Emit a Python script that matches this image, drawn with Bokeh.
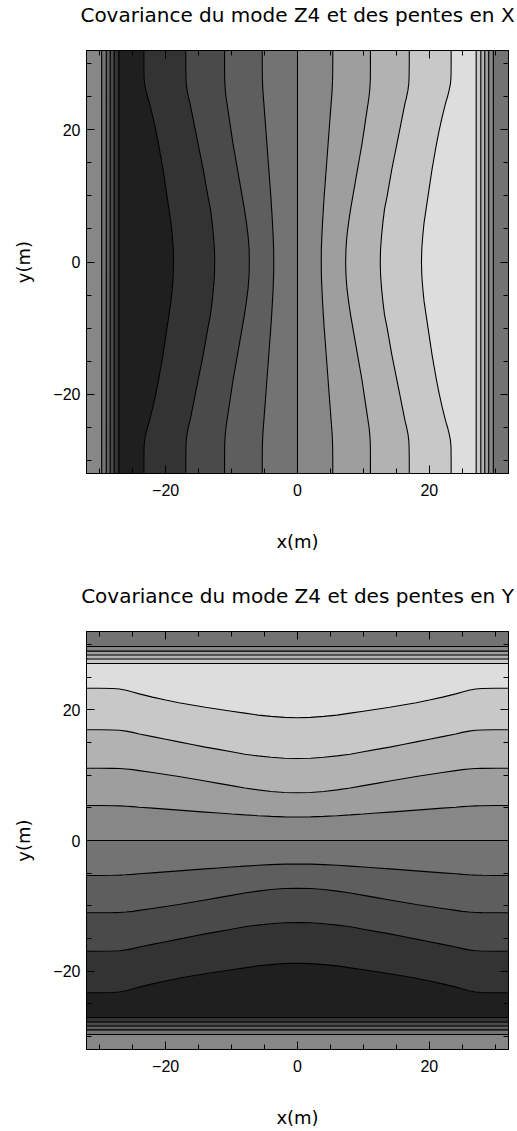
import numpy as np
from bokeh.plotting import figure
from bokeh.layouts import column
from bokeh.models import FixedTicker, LinearAxis, Range1d, Title
from bokeh.embed import file_html
from bokeh.resources import INLINE

# ---------------- data ----------------
titles = ["Covariance du mode Z4 et des pentes en X",
          "Covariance du mode Z4 et des pentes en Y"]
x_label = "x(m)"
y_label = "y(m)"
extent = 32
major_ticks = [-20, 0, 20]
major_labels = ["\u221220", "0", "20"]
minor_ticks = [-30, -25, -20, -15, -10, -5, 0, 5, 10, 15, 20, 25, 30]

# position along the contour lines (m), from the centre outwards
along = [0, 2, 4, 6, 8, 10, 12, 14, 16, 18, 20, 22, 24, 25, 26, 27, 28, 30, 32]
# distance (m) of contour levels +1..+4 from the zero line at those positions
level1 = [3.6, 3.62, 3.7, 3.8, 3.92, 4.05, 4.2, 4.35, 4.5, 4.65, 4.8, 4.95,
          5.1, 5.18, 5.25, 5.3, 5.33, 5.35, 5.35]
level2 = [7.3, 7.35, 7.5, 7.75, 8.05, 8.4, 8.75, 9.1, 9.45, 9.8, 10.1, 10.4,
          10.7, 10.85, 10.95, 11.02, 11.05, 11.06, 11.06]
level3 = [12.55, 12.6, 12.75, 12.95, 13.2, 13.6, 13.95, 14.3, 14.7, 15.1, 15.5,
          15.9, 16.3, 16.55, 16.75, 16.88, 16.92, 16.95, 16.95]
level4 = [18.8, 18.85, 19.0, 19.2, 19.5, 19.8, 20.1, 20.4, 20.75, 21.1, 21.5,
          21.95, 22.45, 22.75, 23.0, 23.2, 23.28, 23.3, 23.3]
# straight contours near the edge of the field, levels +4, +3, +2, +1, 0
edge = [27.1, 27.8, 28.4, 29.0, 29.7]
# gray of each contour band, darkest (lowest) to lightest (highest)
grays = ["#1f1f1f", "#333333", "#4a4a4a", "#5e5e5e", "#737373",
         "#878787", "#9e9e9e", "#b2b2b2", "#c8c8c8", "#dddddd"]
# band index between consecutive boundaries, from -extent to +extent
band_index = [5, 4, 3, 2, 1, 0, 1, 2, 3, 4, 5, 6, 7, 8, 9, 8, 7, 6, 5, 4]

FONT = "DejaVu Sans"
TICK_FONT = "Liberation Sans"


def build():
    a = np.array(along, float)
    t = np.concatenate([-a[::-1], a[1:]])

    def sym(v):
        v = np.array(v, float)
        return np.concatenate([v[::-1], v[1:]])

    interior = [sym(l) for l in (level1, level2, level3, level4)]
    const = lambda c: np.full_like(t, float(c))
    B = ([const(-extent)] + [const(-e) for e in edge[::-1]]
         + [-l for l in interior[::-1]] + [const(0)] + interior
         + [const(e) for e in edge] + [const(extent)])
    band_u, band_v, cols = [], [], []
    for k in range(len(B) - 1):
        band_u.append(np.concatenate([B[k], B[k + 1][::-1]]))
        band_v.append(np.concatenate([t, t[::-1]]))
        cols.append(grays[band_index[k]])
    line_u = [b for b in B[1:-1]]
    line_v = [t for _ in B[1:-1]]
    return band_u, band_v, cols, line_u, line_v


def style_axis(ax, show_labels):
    ax.ticker = FixedTicker(ticks=major_ticks, minor_ticks=minor_ticks)
    ax.major_tick_in = 8
    ax.major_tick_out = 0
    ax.minor_tick_in = 5
    ax.minor_tick_out = 0
    ax.major_tick_line_color = "black"
    ax.minor_tick_line_color = "black"
    ax.axis_line_color = "black"
    if show_labels:
        ax.major_label_overrides = {t: s for t, s in zip(major_ticks, major_labels)}
        ax.major_label_text_font = TICK_FONT
        ax.major_label_text_font_size = "16px"
        ax.major_label_text_color = "black"
    else:
        ax.major_label_overrides = {t: "" for t in major_ticks}
        ax.major_label_text_font_size = "0px"
        ax.major_label_standoff = 0


def make(title, transpose, height, border_top, border_bottom):
    p = figure(width=517, height=height,
               x_range=Range1d(-extent, extent), y_range=Range1d(-extent, extent),
               output_backend="svg", toolbar_location=None,
               min_border_left=86, min_border_right=9,
               min_border_top=border_top, min_border_bottom=border_bottom)

    bu, bv, cols, lu, lv = build()
    if transpose:
        bu, bv, lu, lv = bv, bu, lv, lu
    p.patches(bu, bv, fill_color=cols, line_color=cols, line_width=0.8)
    p.multi_line(lu, lv, line_color="black", line_width=1.1)

    p.grid.visible = False
    p.outline_line_color = "black"
    p.background_fill_color = "#808080"

    for ax in (p.xaxis[0], p.yaxis[0]):
        style_axis(ax, True)
    p.xaxis.axis_label = x_label
    p.yaxis.axis_label = y_label
    for ax in (p.xaxis[0], p.yaxis[0]):
        ax.axis_label_text_font = FONT
        ax.axis_label_text_font_size = "18px"
        ax.axis_label_text_font_style = "normal"
        ax.axis_label_text_color = "black"
    p.xaxis.major_label_standoff = 10
    p.xaxis.axis_label_standoff = 32
    p.yaxis.major_label_standoff = 6
    p.yaxis.axis_label_standoff = 16

    for loc in ("above", "right"):
        ax = LinearAxis()
        style_axis(ax, False)
        p.add_layout(ax, loc)

    # title: a blank second line keeps the text clear of the frame
    t = Title(text=title + "\n\u00a0", align="center", text_font=FONT,
              text_font_style="normal", text_font_size="20px",
              text_line_height=1.0, text_color="black", standoff=0)
    p.add_layout(t, "above")
    return p


p1 = make(titles[0], False, 581, 50, 108)
p2 = make(titles[1], True, 549, 50, 76)
layout = column(p1, p2, spacing=0)

open("out.html", "w").write(file_html(layout, INLINE))
